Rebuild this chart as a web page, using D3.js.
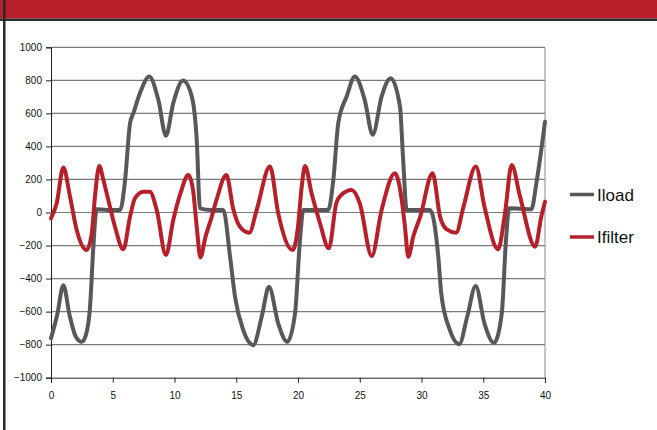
<!DOCTYPE html>
<html><head><meta charset="utf-8">
<script src="https://cdn.jsdelivr.net/npm/d3@7"></script>
<style>body{margin:0;background:#fff;}svg{display:block;}</style>
</head><body>
<div id="chart"></div>
<script>
const xTicks = [0,5,10,15,20,25,30,35,40];
const yTicks = [-1000,-800,-600,-400,-200,0,200,400,600,800,1000];
const seriesNames = ["Iload","Ifilter"];

const iloadT = [0,0.5,1.0,1.5,2.0,2.5,2.9,3.16,3.43,3.7,4.5,5.6,6.0,6.4,6.67,7.2,7.96,8.69,9.31,9.9,10.7,11.4,11.8,12.06,13.0,13.95,14.5,14.9,15.57,16.38,17.06,17.65,18.4,19.13,19.76,20.16,20.43,22.45,22.86,23.26,23.94,24.6,25.4,26.05,26.77,27.5,28.26,28.5,28.8,30.7,31.36,31.6,32.3,33.06,33.7,34.39,35.1,35.87,36.5,36.84,37.1,38.9,39.3,39.7,40];
const iloadV = [-762,-620,-440,-620,-750,-783,-720,-571,-207,20,15,15,197,540,601,722,823,682,465,662,799,702,439,25,15,15,-268,-510,-712,-803,-631,-450,-672,-783,-611,-167,15,15,197,540,702,823,682,470,702,813,641,338,15,15,-268,-490,-712,-797,-631,-445,-672,-789,-611,-167,25,20,177,379,550];

const ifilterT = [0,0.46,1.0,1.54,2.08,2.89,3.3,3.56,3.91,4.24,4.64,5.18,5.86,6.4,6.8,7.47,8.0,8.56,9.31,9.9,10.5,11.12,11.5,11.8,12.1,12.5,13.0,13.4,14.2,14.76,15.3,16.06,16.65,17.73,18.4,19.57,20.0,20.3,20.57,21.1,21.78,22.5,23.1,23.5,24.35,25.0,25.97,26.77,27.85,28.4,28.66,28.93,29.33,29.9,30.9,31.5,32.04,32.8,33.4,34.4,35.1,36.2,36.76,37.3,37.98,39.2,39.7,40];
const ifilterV = [-35,56,272,96,-106,-227,-126,96,282,197,76,-86,-223,-25,86,126,126,15,-258,-45,120,227,136,-86,-272,-150,-30,76,227,20,-86,-122,15,278,-5,-227,-86,156,282,116,-65,-217,56,106,136,56,-264,15,238,76,-86,-268,-147,-25,238,-25,-102,-122,35,278,35,-223,-5,288,96,-207,-25,65];

const colors = ["#58585a","#b71f2a"];
const W = 657, H = 430;
const svg = d3.select("#chart").append("svg").attr("width",W).attr("height",H);

// frame
svg.append("rect").attr("x",0).attr("y",0).attr("width",W).attr("height",18.5).attr("fill","#b71f2a");
svg.append("rect").attr("x",0).attr("y",18.5).attr("width",W).attr("height",2.5).attr("fill","#2b2b2b");
svg.append("rect").attr("x",3).attr("y",0).attr("width",2.5).attr("height",H).attr("fill","#2b2b2b");

const x = d3.scaleLinear().domain([0,40]).range([51,545]);
const y = d3.scaleLinear().domain([-1000,1000]).range([377.7,47.3]);

// gridlines
svg.append("g").selectAll("line").data(yTicks.filter(d=>d>-1000)).join("line")
  .attr("x1",x(0)).attr("x2",x(40)).attr("y1",d=>y(d)).attr("y2",d=>y(d))
  .attr("stroke","#7a7a7a").attr("stroke-width",1.2);
svg.append("line").attr("x1",x(40)).attr("x2",x(40)).attr("y1",y(1000)).attr("y2",y(-1000))
  .attr("stroke","#8a8a8a").attr("stroke-width",1);

const yAxis = svg.append("g").attr("transform",`translate(${x(0)},0)`)
  .call(d3.axisLeft(y).tickValues(yTicks).tickSize(5).tickPadding(4).tickFormat(d3.format("d")));
const xAxis = svg.append("g").attr("transform",`translate(0,${y(-1000)})`)
  .call(d3.axisBottom(x).tickValues(xTicks).tickSize(5).tickPadding(9));
[yAxis,xAxis].forEach(a=>{
  a.select(".domain").attr("stroke","#222");
  a.selectAll(".tick line").attr("stroke","#222");
  a.selectAll("text").attr("font-family","Liberation Sans, Arial, sans-serif").attr("font-size",10).attr("fill","#111");
});

const line = d3.line().x(d=>x(d[0])).y(d=>y(d[1])).curve(d3.curveMonotoneX);
const series = [d3.zip(iloadT,iloadV), d3.zip(ifilterT,ifilterV)];
series.forEach((s,i)=>{
  svg.append("path").datum(s).attr("d",line).attr("fill","none")
    .attr("stroke",colors[i]).attr("stroke-width",4).attr("stroke-linejoin","round").attr("stroke-linecap","round");
});

// legend
const leg = svg.append("g");
seriesNames.forEach((n,i)=>{
  const ly = 194.5 + i*42.5;
  leg.append("line").attr("x1",570).attr("x2",594).attr("y1",ly).attr("y2",ly)
    .attr("stroke",colors[i]).attr("stroke-width",3.5);
  leg.append("text").attr("x",597).attr("y",ly+6).text(n)
    .attr("font-family","Liberation Sans, Arial, sans-serif").attr("font-size",17).attr("fill","#111");
});
</script>
</body></html>
